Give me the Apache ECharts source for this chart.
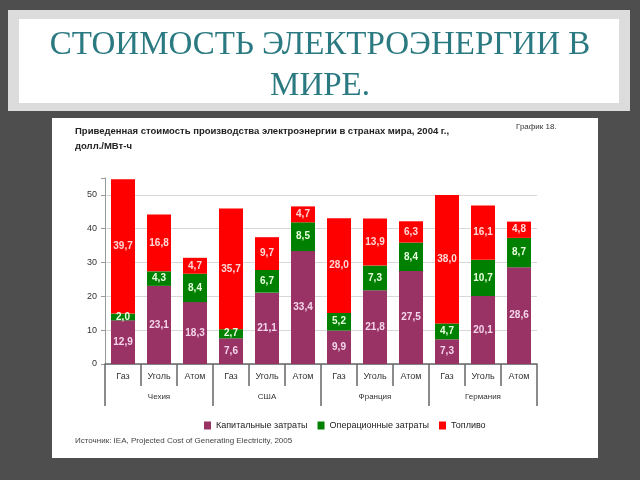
<!DOCTYPE html>
<html>
<head>
<meta charset="utf-8">
<script src="https://cdn.jsdelivr.net/npm/echarts@6/dist/echarts.min.js"></script>
<style>html,body{margin:0;padding:0;background:#4e4e4e;}#c{width:640px;height:480px;}</style>
</head>
<body>
<div id="c"></div>
<script>
const categories = ['Газ','Уголь','Атом','Газ','Уголь','Атом','Газ','Уголь','Атом','Газ','Уголь','Атом'];
const countries = ['Чехия','США','Франция','Германия'];
const capital = [12.9,23.1,18.3, 7.6,21.1,33.4, 9.9,21.8,27.5, 7.3,20.1,28.6];
const operating = [2.0,4.3,8.4, 2.7,6.7,8.5, 5.2,7.3,8.4, 4.7,10.7,8.7];
const fuel = [39.7,16.8,4.7, 35.7,9.7,4.7, 28.0,13.9,6.3, 38.0,16.1,4.8];
const seriesNames = ['Капитальные затраты','Операционные затраты','Топливо'];
const yTicks = [0,10,20,30,40,50];

const fmt = p => p.value.toFixed(1).replace('.', ',');
const lbl = (color) => ({show:true, position:'inside', formatter: fmt, color: color, fontSize: 10, fontWeight:'bold', fontFamily:'Liberation Sans, Arial'});

const chart = echarts.init(document.getElementById('c'), null, {renderer:'canvas'});
chart.setOption({
  backgroundColor: '#4e4e4e',
  animation: false,
  graphic: [
    {type:'rect', shape:{x:8,y:10,width:622,height:101}, style:{fill:'#dcdcdc'}, z:-10},
    {type:'rect', shape:{x:19,y:19,width:600,height:84}, style:{fill:'#ffffff'}, z:-9},
    {type:'text', left:'center', top:25, style:{text:'СТОИМОСТЬ ЭЛЕКТРОЭНЕРГИИ В\nМИРЕ.', fill:'#2b7a82', font:'33px "Liberation Serif", "DejaVu Serif", serif', textAlign:'center', lineHeight:41}},
    {type:'rect', shape:{x:52,y:118,width:546,height:340}, style:{fill:'#ffffff'}, z:-9},
    {type:'text', left:75, top:124, style:{text:'Приведенная стоимость производства электроэнергии в странах мира, 2004 г.,\nдолл./МВт-ч', fill:'#222', font:'bold 9.5px "Liberation Sans", Arial', lineHeight:15}},
    {type:'text', left:516, top:123, style:{text:'График 18.', fill:'#333', font:'8px "Liberation Sans", Arial'}},
    {type:'text', left:75, top:437, style:{text:'Источник: IEA, Projected Cost of Generating Electricity, 2005', fill:'#444', font:'8px "Liberation Sans", Arial'}}
  ],
  grid: {left:105, right:103, top:178, bottom:116, containLabel:false},
  legend: {
    data: seriesNames, top:416, left:199, icon:'rect', itemWidth:7, itemHeight:8, itemGap:10,
    textStyle:{fontSize:9, color:'#222', fontFamily:'Liberation Sans, Arial'}
  },
  xAxis: [
    {type:'category', data:categories, position:'bottom',
     axisLine:{show:true, lineStyle:{color:'#666', width:1.5}},
     axisTick:{show:true, interval:0, length:22, lineStyle:{color:'#666', width:1.5}},
     axisLabel:{interval:0, fontSize:9, color:'#333', margin:8, fontFamily:'Liberation Sans, Arial'}},
    {type:'category', data:countries, position:'bottom', offset:22,
     axisLine:{show:false},
     axisTick:{show:true, interval:0, length:20, lineStyle:{color:'#666', width:1.5}},
     axisLabel:{interval:0, fontSize:8, color:'#333', margin:7, fontFamily:'Liberation Sans, Arial'}}
  ],
  yAxis: {type:'value', min:0, max:55, interval:10,
    axisLine:{show:true, lineStyle:{color:'#999'}},
    axisTick:{show:true, length:4, lineStyle:{color:'#999'}},
    axisLabel:{fontSize:9, color:'#333', margin:8, fontFamily:'Liberation Sans, Arial',
      formatter: v => yTicks.indexOf(v) >= 0 ? String(v) : ''},
    splitLine:{show:true, showMaxLine:false, lineStyle:{color:'#d8d8d8'}}
  },
  series: [
    {name:seriesNames[0], type:'bar', stack:'s', data:capital, barWidth:24, itemStyle:{color:'#993366'}, label:lbl('#f4d6ea')},
    {name:seriesNames[1], type:'bar', stack:'s', data:operating, barWidth:24, itemStyle:{color:'#008000'}, label:lbl('#e8ffe0')},
    {name:seriesNames[2], type:'bar', stack:'s', data:fuel, barWidth:24, itemStyle:{color:'#ff0000'}, label:lbl('#ffd8d8')}
  ]
});
</script>
</body>
</html>
